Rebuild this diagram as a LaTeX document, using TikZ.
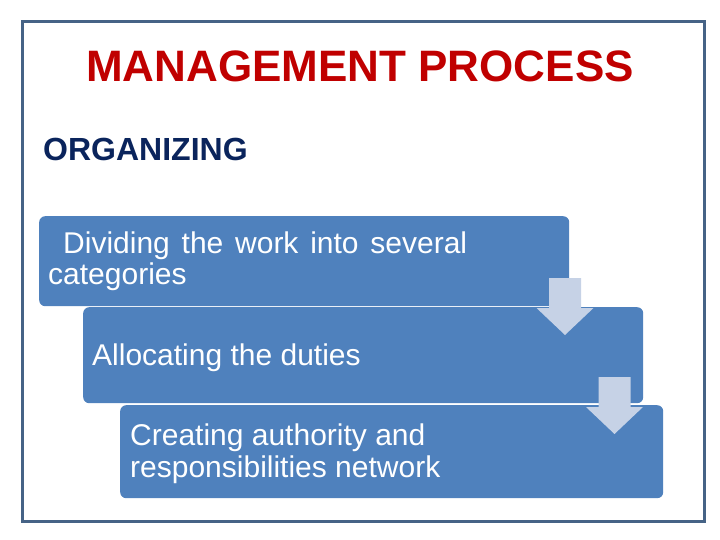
\documentclass[tikz,border=0pt]{standalone}
\usepackage{fontspec}
\setmainfont{Liberation Sans}
\usetikzlibrary{positioning}
\definecolor{frameblue}{RGB}{70,99,134}
\definecolor{titlered}{RGB}{192,0,0}
\definecolor{headnavy}{RGB}{10,36,92}
\definecolor{boxblue}{RGB}{79,129,189}
\definecolor{arrowblue}{RGB}{198,210,230}
\tikzset{
  stepbox/.style={fill=boxblue, rounded corners=6pt, inner sep=0pt, anchor=north west},
  steptext/.style={text=white, anchor=base west, inner sep=0pt,
    font=\fontsize{30}{32}\selectfont, align=flush left},
  pics/downarrow/.style={code={
    \fill[arrowblue] (-16,0) -- (16,0) -- (16,30) -- (28.5,30) -- (0,57)
      -- (-28.5,30) -- (-16,30) -- cycle;}}
}
\begin{document}
\begin{tikzpicture}[x=1pt,y=-1pt]
  \useasboundingbox (0,0) rectangle (720,540);
  \draw[frameblue, line width=3pt] (22,22) rectangle (704,521);
  \node[titlered, anchor=base, inner sep=0pt,
    font=\fontsize{44}{50}\selectfont\bfseries] (title) at (360,82) {MANAGEMENT PROCESS};
  \node[headnavy, anchor=base west, inner sep=0pt,
    font=\fontsize{32}{36}\selectfont\bfseries] (organizing) at (43,161) {ORGANIZING};
  \node[stepbox, minimum width=530, minimum height=90] (box1) at (39,216) {};
  \node[stepbox, minimum width=560, minimum height=96] (box2) at (83,307) {};
  \node[stepbox, minimum width=543, minimum height=93] (box3) at (120,405) {};
  \node[steptext, text width=419, align=justify] (dividing) at (48,253)
    {\hspace*{15pt}Dividing the work into several\linebreak categories};
  \node[steptext] (allocating) at (92,365) {Allocating the duties};
  \node[steptext, text width=360] (creating) at (130,445)
    {Creating authority and\\responsibilities network};
  \pic at (565,278) {downarrow};
  \pic at (614.5,377) {downarrow};
\end{tikzpicture}
\end{document}
